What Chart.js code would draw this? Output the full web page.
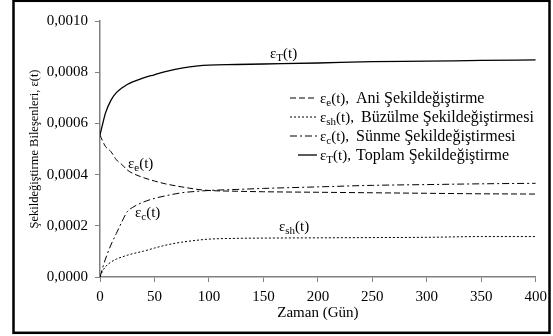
<!DOCTYPE html>
<html>
<head>
<meta charset="utf-8">
<script src="https://cdn.jsdelivr.net/npm/chart.js@4/dist/chart.umd.min.js"></script>
<style>
html,body{margin:0;padding:0;background:#fff;}
#wrap{position:relative;width:553px;height:336px;}
</style>
</head>
<body>
<div id="wrap"><canvas id="c" width="553" height="336"></canvas></div>
<script>
// ---- data ----
const days = [0, 2, 5, 10, 15, 20, 25, 30, 40, 50, 60, 75, 90, 100, 125, 150, 200, 250, 300, 350, 400];
const epsE  = [0.000555,0.000535,0.000510,0.000490,0.000458,0.000440,0.000418,0.000405,0.000388,0.000375,0.000364,0.000352,0.000342,0.000338,0.000335,0.000333,0.000331,0.000329,0.000327,0.000325,0.000324];
const epsSh = [0,0.000020,0.000040,0.000058,0.000070,0.000078,0.000085,0.000091,0.000101,0.000113,0.000124,0.000136,0.000144,0.000148,0.000151,0.000152,0.000153,0.000154,0.000155,0.000158,0.000158];
const epsC  = [0,0.000030,0.000070,0.000125,0.000170,0.000215,0.000255,0.000272,0.000293,0.000307,0.000317,0.000329,0.000335,0.000338,0.000342,0.000346,0.000352,0.000358,0.000361,0.000364,0.000366];
const epsT  = [0.000555,0.000590,0.000640,0.000690,0.000720,0.000738,0.000752,0.000762,0.000778,0.000790,0.000802,0.000816,0.000825,0.000828,0.000830,0.000832,0.000836,0.000841,0.000843,0.000846,0.000848];
const xTicks = [0, 50, 100, 150, 200, 250, 300, 350, 400];
const yTicks = [0, 0.0002, 0.0004, 0.0006, 0.0008, 0.0010];
const xTitle = 'Zaman (Gün)';
const yTitle = 'Şekildeğiştirme Bileşenleri, ε(t)';
const legendItems = [
  {sub:'e',  name:'Ani Şekildeğiştirme'},
  {sub:'sh', name:'Büzülme Şekildeğiştirmesi'},
  {sub:'c',  name:'Sünme Şekildeğiştirmesi'},
  {sub:'T',  name:'Toplam Şekildeğiştirme'}
];

const SERIF = '"Liberation Serif", "Times New Roman", serif';
const pts = arr => days.map((d,i)=>({x:d,y:arr[i]}));
const dashes = [[6,3],[2,2],[7,3,2,3],[]];

function drawEps(ctx, x, y, sub, tail, size) {
  ctx.save();
  ctx.textBaseline = 'alphabetic';
  ctx.textAlign = 'left';
  ctx.font = size + 'px ' + SERIF;
  ctx.fillText('ε', x, y);
  x += ctx.measureText('ε').width;
  ctx.font = Math.round(size*0.7) + 'px ' + SERIF;
  ctx.fillText(sub, x, y + size*0.22);
  x += ctx.measureText(sub).width;
  ctx.font = size + 'px ' + SERIF;
  ctx.fillText(tail, x, y);
  x += ctx.measureText(tail).width;
  ctx.restore();
  return x;
}

const decor = {
  id: 'decor',
  afterDraw(chart) {
    const ctx = chart.ctx;
    ctx.save();
    // outer frame
    ctx.strokeStyle = '#000';
    ctx.lineWidth = 2.5;
    ctx.strokeRect(13.5, 0.8, 536, 332);
    ctx.fillStyle = '#000';
    // curve labels
    drawEps(ctx, 270, 58, 'T', '(t)', 15);
    drawEps(ctx, 128, 168, 'e', '(t)', 15);
    drawEps(ctx, 135, 217, 'c', '(t)', 15);
    drawEps(ctx, 279, 231, 'sh', '(t)', 15);
    // legend
    const rows = [98, 117, 136, 155];
    const nameX = [356, 361, 356, 356];
    legendItems.forEach((it, i) => {
      const y = rows[i];
      ctx.save();
      ctx.strokeStyle = '#000';
      ctx.lineWidth = i === 3 ? 1.3 : 1;
      ctx.setLineDash(dashes[i]);
      ctx.beginPath();
      ctx.moveTo(i === 3 ? 298 : 290, y);
      ctx.lineTo(317, y);
      ctx.stroke();
      ctx.restore();
      drawEps(ctx, 320, y + 5, it.sub, '(t),', 15);
      ctx.font = '16px ' + SERIF;
      ctx.textBaseline = 'alphabetic';
      ctx.fillText(it.name, nameX[i], y + 5);
    });
    ctx.restore();
  }
};

const common = {pointRadius:0, borderColor:'#000', fill:false, cubicInterpolationMode:'monotone', borderWidth:1};

new Chart(document.getElementById('c'), {
  type: 'line',
  data: {
    datasets: [
      Object.assign({label:'εe', data: pts(epsE), borderDash: dashes[0]}, common),
      Object.assign({label:'εsh', data: pts(epsSh), borderDash: dashes[1]}, common),
      Object.assign({label:'εc', data: pts(epsC), borderDash: dashes[2]}, common),
      Object.assign({label:'εT', data: pts(epsT)}, common, {borderWidth:1.3})
    ]
  },
  options: {
    responsive: false,
    animation: false,
    layout: {padding: {top: 21, right: 16, left: 0, bottom: 0}},
    plugins: {legend: {display: false}, tooltip: {enabled: false}},
    scales: {
      x: {
        type: 'linear', min: 0, max: 400,
        afterBuildTicks: s => { s.ticks = xTicks.map(v => ({value: v})); },
        afterFit: s => { s.height = 59; },
        grid: {drawOnChartArea: false, drawTicks: true, tickLength: 5, color: '#808080', lineWidth: 1},
        border: {display: true, color: '#808080', width: 1.5},
        ticks: {color: '#000', font: {family: SERIF, size: 15}, padding: 6, maxRotation: 0},
        title: {display: true, text: xTitle, color: '#000', font: {family: SERIF, size: 15}, padding: {top: 0, bottom: 14}}
      },
      y: {
        type: 'linear', min: 0, max: 0.001,
        afterBuildTicks: s => { s.ticks = yTicks.map(v => ({value: v})); },
        afterFit: s => { s.width = 100; },
        grid: {drawOnChartArea: false, drawTicks: true, tickLength: 5, color: '#808080', lineWidth: 1},
        border: {display: true, color: '#808080', width: 1.5},
        ticks: {color: '#000', font: {family: SERIF, size: 15}, padding: 7,
                callback: v => v.toFixed(4).replace('.', ',')},
        title: {display: true, text: yTitle, color: '#000', font: {family: SERIF, size: 12.5}, padding: {top: 27, bottom: 0}}
      }
    }
  },
  plugins: [decor]
});
</script>
</body>
</html>
